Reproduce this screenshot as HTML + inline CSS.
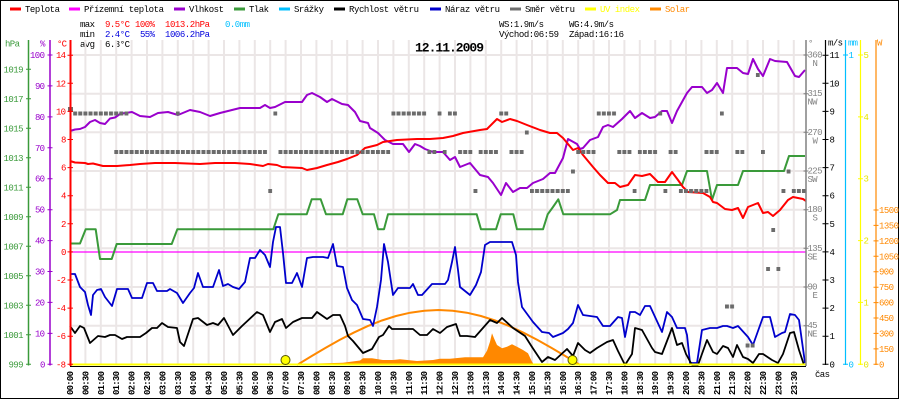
<!DOCTYPE html>
<html><head><meta charset="utf-8"><style>
html,body{margin:0;padding:0;background:#fff;}
svg{display:block;}
text{font-family:"Liberation Mono","DejaVu Sans Mono",monospace;font-size:9px;}
</style></head><body>
<svg width="900" height="400" viewBox="0 0 900 400" xmlns="http://www.w3.org/2000/svg">
<defs>
<pattern id="sq" x="68" y="0" width="5.133" height="400" patternUnits="userSpaceOnUse"><rect x="0" y="0" width="4" height="400" fill="#6b6b6b"/></pattern>
</defs>
<rect x="0" y="0" width="900" height="400" fill="#fff"/>
<rect x="0.5" y="0.5" width="898" height="398" fill="none" stroke="#000" stroke-width="1"/>

<!-- legend -->
<g stroke-width="3">
<line x1="10" y1="9" x2="21" y2="9" stroke="#ff0000"/>
<line x1="69" y1="9" x2="80" y2="9" stroke="#ff00ff"/>
<line x1="174" y1="9" x2="185" y2="9" stroke="#9900cc"/>
<line x1="234" y1="9" x2="245" y2="9" stroke="#3a9a3a"/>
<line x1="279" y1="9" x2="290" y2="9" stroke="#00bfff"/>
<line x1="334" y1="9" x2="345" y2="9" stroke="#000"/>
<line x1="430" y1="9" x2="441" y2="9" stroke="#0000cc"/>
<line x1="510" y1="9" x2="521" y2="9" stroke="#707070"/>
<line x1="585" y1="9" x2="596" y2="9" stroke="#ffff00"/>
<line x1="650" y1="9" x2="661" y2="9" stroke="#ff8800"/>
</g>
<g fill="#000">
<text x="25" y="12" textLength="35">Teplota</text>
<text x="84" y="12" textLength="80">Přízemní teplota</text>
<text x="189" y="12" textLength="35">Vlhkost</text>
<text x="249" y="12" textLength="20">Tlak</text>
<text x="294" y="12" textLength="30">Srážky</text>
<text x="349" y="12" textLength="70">Rychlost větru</text>
<text x="445" y="12" textLength="55">Náraz větru</text>
<text x="525" y="12" textLength="50">Směr větru</text>
<text x="600" y="12" textLength="40" fill="#ffff00">UV index</text>
<text x="665" y="12" textLength="25" fill="#ff8800">Solar</text>
</g>

<!-- stats -->
<text x="80" y="27" textLength="15">max</text>
<text x="105" y="27" textLength="25" fill="#ff0000">9.5°C</text>
<text x="135" y="27" textLength="20" fill="#ff0000">100%</text>
<text x="165" y="27" textLength="45" fill="#ff0000">1013.2hPa</text>
<text x="225" y="27" textLength="25" fill="#00bfff">0.0mm</text>
<text x="80" y="37" textLength="15">min</text>
<text x="105" y="37" textLength="25" fill="#0000dd">2.4°C</text>
<text x="140" y="37" textLength="15" fill="#0000dd">55%</text>
<text x="165" y="37" textLength="45" fill="#0000dd">1006.2hPa</text>
<text x="80" y="47" textLength="15">avg</text>
<text x="105" y="47" textLength="25">6.3°C</text>
<text x="499" y="27" textLength="45">WS:1.9m/s</text>
<text x="569" y="27" textLength="45">WG:4.9m/s</text>
<text x="499" y="37" textLength="60">Východ:06:59</text>
<text x="569" y="37" textLength="55">Západ:16:16</text>

<!-- grid -->
<path d="M85.4,40V365M100.8,40V365M116.2,40V365M131.6,40V365M147,40V365M162.4,40V365M177.8,40V365M193.2,40V365M208.6,40V365M224,40V365M239.4,40V365M254.8,40V365M270.2,40V365M285.6,40V365M301,40V365M316.4,40V365M331.8,40V365M347.2,40V365M362.6,40V365M378,40V365M393.4,40V365M408.8,40V365M424.2,40V365M439.6,40V365M455,40V365M470.4,40V365M485.8,40V365M501.2,40V365M516.6,40V365M532,40V365M547.4,40V365M562.8,40V365M578.2,40V365M593.6,40V365M609,40V365M624.4,40V365M639.8,40V365M655.2,40V365M670.6,40V365M686,40V365M701.4,40V365M716.8,40V365M732.2,40V365M747.6,40V365M763,40V365M778.4,40V365M793.8,40V365M70,55H806M70,93.7H806M70,132.3H806M70,171H806M70,209.7H806M70,248.3H806M70,287H806M70,325.7H806" stroke="#ebe6e6" stroke-width="2" fill="none"/>

<!-- title -->
<text x="415" y="51.7" textLength="69" style="font-size:13px;font-weight:bold">12.11.2009</text>

<!-- magenta 0 line -->
<line x1="70" y1="252" x2="806" y2="252" stroke="#ff00ff" stroke-width="1.3"/>

<!-- solar area -->
<polygon points="300,365 316,363.5 343,362.7 360,360.5 363,358.3 372,358.3 383,360 393,360 400,359.3 417,361 433,360 440,358.7 450,358.7 465,357.3 483,357.3 487,350.7 490,341.7 492,333.3 494,338.3 497,345 502,348.3 507,346.7 512,344.3 517,346.7 523,350 528,353.3 532,361.7 534,365" fill="#ff8800"/>
<polyline points="297,365 311.15,356.4 325.3,348 339.45,340 353.6,332.7 367.75,326.1 381.9,320.5 396.05,316 410.2,312.7 424.35,310.7 438.5,310 452.65,310.7 466.8,312.7 480.95,316 495.1,320.5 509.25,326.1 523.4,332.7 537.55,340 551.7,348 565.85,356.4 580,365" fill="none" stroke="#ff8800" stroke-width="2"/>

<g fill="none" stroke-width="2" stroke-linejoin="round">
<!-- pressure -->
<polyline stroke="#3a9a3a" points="70,243.5 80,243.5 85.7,229.3 95.7,229.3 100,259 111.7,259 116.7,244 171.7,244 177.3,229.3 273.3,229.3 278.3,214.3 306.7,214.3 311.7,199.3 320.7,199.3 326,214.3 342.7,214.3 347.3,199.3 357.3,199.3 362.7,214.3 374,214.3 378,229.3 384,229.3 388,214.3 476.7,214.3 481,229.3 496,229.3 500.7,214.3 513.3,214.3 517,229.3 543,229.3 547.7,214.3 553,207 558.3,199.3 563.3,214.3 610,214.3 617,210 620,200 645,200 650,185 682,185 687,171 707,171 712,200 717,185 738,185 743,171 784,171 789,156 805,156"/>
<!-- humidity -->
<polyline stroke="#9900cc" points="70,131 75,129.5 80,129 85,127 90,122 95,120 100,123 105,124 110,118.5 115,117.5 120,114 125,113 132,112 140,116 150,117 158,113 168,112 178,115 190,110 200,112 210,116 220,113 232,110 240,108 250,108 260,108 265,105 270,108 275,107 285,102 302,102 307,95 312,93 320,97 327,102 332,99 342,104 348,105 355,112 360,121 368,123 370,128 378,133 385,140 393,144 403,144 409,152 415,144 420,146 425,149 433,152 443,152 450,160 455,157 460,167 470,163 480,175 488,177 493,183 501,195 506,183 513,192 520,188 527,188 533,183 543,179 550,173 555,173 563,158 568,139 577,144 580,149 583,148 590,140 598,137 603,127 608,125 613,127 622,119 630,111 635,118 642,113 650,118 655,117 662,111 667,111 672,123 677,111 687,93 692,87 702,87 707,93 712,90 717,83 723,93 727,68 737,68 743,73 748,74 753,59 758,69 763,76 770,59 775,61 787,62 795,76 799,77 805,70"/>
<!-- temperature -->
<polyline stroke="#ff0000" points="70,161 75,162.5 85,163 88,164 93,163.5 97,164.5 103,166 117,166 130,165 140,164 155,163 175,163 200,164 215,163 235,163 250,164 263,166 268,164 277,165 282,167 302,168 307,170 312,169 317,168 327,165 338,162 347,159 357,155 365,148 377,145 383,142 397,140 417,139 430,139 443,138 453,136 463,133 480,130 487,129 497,119 502,122 510,119 517,121 527,125 540,130 550,133 557,133 563,138 573,150 578,148 583,155 593,167 600,175 608,183 615,183 620,187 628,185 635,175 642,176 650,174 658,182 665,182 672,172 678,180 683,187 688,192 703,193 710,197 713,202 717,203 725,209 732,210 738,208 743,218 748,207 758,203 763,213 768,212 773,216 780,210 788,200 793,197 803,199 806,201"/>
<!-- gust -->
<polyline stroke="#0000cc" stroke-width="1.8" points="70,274 75,274 80,287 85,292 88,305 91,315 93,295 97,290 101,289 105,297 112,306 117,289 128,289 132,298 142,298 147,283 153,283 157,291 167,291 170,289 177,293 183,303 190,293 194,288 198,273 203,287 213,287 219,270 223,286 228,284 233,287 239,289 245,282 250,258 255,258 260,250 265,255 270,267 273,242 276,227 280,227 283,253 286,283 292,283 297,273 302,287 307,258 313,257 323,257 328,258 333,244 337,266 343,267 347,288 352,300 357,305 360,312 363,319 370,320 373,326 377,307 381,280 384,244 388,262 391,282 393,295 398,288 410,288 413,284 418,295 422,295 432,284 445,284 448,280 452,262 455,247 458,270 460,287 470,295 476,285 481,272 485,245 490,242 512,242 516,255 518,282 522,307 533,322 542,332 549,333 553,337 563,333 568,329 573,323 578,305 583,315 597,317 603,326 610,326 618,317 622,318 625,337 630,312 635,312 640,315 645,306 650,306 662,332 667,312 672,317 677,328 685,328 687,335 690,363 697,363 702,330 710,328 717,328 723,326 727,326 733,328 738,326 748,337 753,345 763,317 770,317 775,337 782,333 785,332 790,314 795,315 799,320 805,363"/>
<!-- wind speed -->
<polyline stroke="#000" stroke-width="1.8" points="70,326 75,333 80,326 84,328 90,343 98,336 105,337 110,335 115,335 122,339 127,337 140,337 146,333 152,328 157,328 162,323 168,327 177,328 180,342 184,346 193,319 198,318 207,325 213,323 218,325 224,318 233,335 242,326 257,312 263,315 270,332 275,322 282,319 286,328 293,322 302,318 312,318 317,312 327,319 333,315 340,315 345,326 348,336 353,341 363,353 372,349 379,337 383,335 389,326 392,329 413,329 420,335 427,335 433,329 440,333 447,327 456,324 460,336 467,336 475,337 490,320 497,323 502,318 513,328 525,336 532,347 542,362 548,357 555,360 567,349 573,356 578,343 585,350 590,353 597,348 607,342 613,340 618,351 625,365 632,354 635,328 642,330 652,348 655,352 662,354 672,328 677,345 682,343 686,354 692,365 698,365 707,340 713,352 717,354 723,346 728,348 733,357 737,345 743,357 748,359 753,363 759,354 763,354 772,360 778,363 783,354 790,333 794,332 799,350 804,365"/>
</g>

<!-- wind direction squares -->
<rect x="68" y="107" width="5" height="5" fill="#6b6b6b"/>
<g fill="url(#sq)">
<rect x="73.1" y="111.5" width="55.4" height="4"/>
<rect x="175.8" y="111.5" width="4" height="4"/>
<rect x="273.3" y="111.5" width="4" height="4"/>
<rect x="391.4" y="111.5" width="34.8" height="4"/>
<rect x="437.6" y="111.5" width="4" height="4"/>
<rect x="447.8" y="111.5" width="9.2" height="4"/>
<rect x="499.2" y="111.5" width="9.1" height="4"/>
<rect x="596.7" y="111.5" width="19.4" height="4"/>
<rect x="658.3" y="111.5" width="4" height="4"/>
<rect x="719.9" y="111.5" width="4" height="4"/>
<rect x="755.8" y="73" width="4" height="4"/>
<rect x="524.8" y="130.5" width="4" height="4"/>
<rect x="114.2" y="150" width="152.9" height="4"/>
<rect x="278.5" y="150" width="111.7" height="4"/>
<rect x="427.3" y="150" width="9.1" height="4"/>
<rect x="442.7" y="150" width="4" height="4"/>
<rect x="458.1" y="150" width="14.3" height="4"/>
<rect x="478.6" y="150" width="19.4" height="4"/>
<rect x="509.4" y="150" width="14.3" height="4"/>
<rect x="576.2" y="150" width="19.4" height="4"/>
<rect x="617.2" y="150" width="14.3" height="4"/>
<rect x="637.8" y="150" width="19.4" height="4"/>
<rect x="668.6" y="150" width="9.1" height="4"/>
<rect x="704.5" y="150" width="14.3" height="4"/>
<rect x="735.3" y="150" width="9.1" height="4"/>
<rect x="761" y="150" width="4" height="4"/>
<rect x="571" y="169.5" width="4" height="4"/>
<rect x="786.6" y="169.5" width="4" height="4"/>
<rect x="268.2" y="189" width="4" height="4"/>
<rect x="473.5" y="189" width="4" height="4"/>
<rect x="530" y="189" width="39.9" height="4"/>
<rect x="632.6" y="189" width="4" height="4"/>
<rect x="663.4" y="189" width="4" height="4"/>
<rect x="678.8" y="189" width="29.7" height="4"/>
<rect x="781.5" y="189" width="4" height="4"/>
<rect x="791.7" y="189" width="14.3" height="4"/>
<rect x="771.2" y="228" width="4" height="4"/>
<rect x="766.1" y="267" width="4" height="4"/>
<rect x="776.4" y="267" width="4" height="4"/>
<rect x="725" y="304.5" width="9.2" height="4"/>
<rect x="745.6" y="343.5" width="9.1" height="4"/>
</g>

<!-- bottom: black axis + UV line -->
<line x1="70" y1="366.5" x2="806" y2="366.5" stroke="#000" stroke-width="1"/>
<line x1="70" y1="364.5" x2="806" y2="364.5" stroke="#ffff00" stroke-width="2"/>

<!-- sunrise/sunset -->
<circle cx="285.5" cy="360" r="4.5" fill="#ffff00" stroke="#555500" stroke-width="1"/>
<circle cx="572.5" cy="360" r="4.5" fill="#ffff00" stroke="#555500" stroke-width="1"/>

<!-- left axes -->
<line x1="28.5" y1="40" x2="28.5" y2="365.5" stroke="#3a9a3a" stroke-width="1.5"/>
<line x1="50" y1="40" x2="50" y2="365.5" stroke="#9900cc" stroke-width="1.5"/>
<line x1="70.5" y1="40" x2="70.5" y2="366" stroke="#ff0000" stroke-width="2"/>
<path d="M26,364.3H31M26,334.8H31M26,305.3H31M26,275.8H31M26,246.3H31M26,216.8H31M26,187.3H31M26,157.8H31M26,128.3H31M26,98.8H31M26,69.3H31" stroke="#3a9a3a" stroke-width="1"/>
<path d="M47.5,364.3H52.5M47.5,333.4H52.5M47.5,302.4H52.5M47.5,271.5H52.5M47.5,240.6H52.5M47.5,209.7H52.5M47.5,178.7H52.5M47.5,147.8H52.5M47.5,116.9H52.5M47.5,85.9H52.5M47.5,55H52.5" stroke="#9900cc" stroke-width="1"/>
<path d="M67.5,364.3H73M67.5,336.2H73M67.5,308.1H73M67.5,280H73M67.5,251.9H73M67.5,223.8H73M67.5,195.7H73M67.5,167.6H73M67.5,139.5H73M67.5,111.4H73M67.5,83.3H73M67.5,55.2H73" stroke="#ff0000" stroke-width="1"/>

<text x="5" y="46.5" textLength="15" fill="#3a9a3a">hPa</text>
<text x="40" y="46.5" textLength="5" fill="#9900cc">%</text>
<text x="57" y="46.5" textLength="10" fill="#ff0000">°C</text>

<g fill="#3a9a3a">
<text x="8.5" y="367.3" textLength="15">999</text>
<text x="3.5" y="337.8" textLength="20">1001</text>
<text x="3.5" y="308.3" textLength="20">1003</text>
<text x="3.5" y="278.8" textLength="20">1005</text>
<text x="3.5" y="249.3" textLength="20">1007</text>
<text x="3.5" y="219.8" textLength="20">1009</text>
<text x="3.5" y="190.3" textLength="20">1011</text>
<text x="3.5" y="160.8" textLength="20">1013</text>
<text x="3.5" y="131.3" textLength="20">1015</text>
<text x="3.5" y="101.8" textLength="20">1017</text>
<text x="3.5" y="72.3" textLength="20">1019</text>
</g>
<g fill="#9900cc">
<text x="40" y="367.3" textLength="5">0</text>
<text x="35" y="336.4" textLength="10">10</text>
<text x="35" y="305.4" textLength="10">20</text>
<text x="35" y="274.5" textLength="10">30</text>
<text x="35" y="243.6" textLength="10">40</text>
<text x="35" y="212.7" textLength="10">50</text>
<text x="35" y="181.7" textLength="10">60</text>
<text x="35" y="150.8" textLength="10">70</text>
<text x="35" y="119.9" textLength="10">80</text>
<text x="35" y="88.9" textLength="10">90</text>
<text x="30" y="58" textLength="15">100</text>
</g>
<g fill="#ff0000">
<text x="56" y="367.3" textLength="10">-8</text>
<text x="56" y="339.2" textLength="10">-6</text>
<text x="56" y="311.1" textLength="10">-4</text>
<text x="56" y="283" textLength="10">-2</text>
<text x="61" y="254.9" textLength="5">0</text>
<text x="61" y="226.8" textLength="5">2</text>
<text x="61" y="198.7" textLength="5">4</text>
<text x="61" y="170.6" textLength="5">6</text>
<text x="61" y="142.5" textLength="5">8</text>
<text x="56" y="114.4" textLength="10">10</text>
<text x="56" y="86.3" textLength="10">12</text>
<text x="56" y="58.2" textLength="10">14</text>
</g>

<!-- right axes -->
<line x1="806" y1="40" x2="806" y2="366" stroke="#808080" stroke-width="1.5"/>
<line x1="825.5" y1="40" x2="825.5" y2="365" stroke="#000" stroke-width="1.2"/>
<line x1="845.5" y1="40" x2="845.5" y2="365" stroke="#00bfff" stroke-width="1.2"/>
<line x1="860.5" y1="40" x2="860.5" y2="365" stroke="#ffff00" stroke-width="1.2"/>
<line x1="876" y1="40" x2="876" y2="365" stroke="#ff8800" stroke-width="1.2"/>

<path d="M803.5,55H808.5M803.5,93.7H808.5M803.5,132.3H808.5M803.5,171H808.5M803.5,209.7H808.5M803.5,248.3H808.5M803.5,287H808.5M803.5,325.7H808.5" stroke="#808080" stroke-width="1"/>
<path d="M822.5,364.3H828.5M822.5,336.2H828.5M822.5,308.1H828.5M822.5,280H828.5M822.5,251.9H828.5M822.5,223.8H828.5M822.5,195.7H828.5M822.5,167.6H828.5M822.5,139.5H828.5M822.5,111.4H828.5M822.5,83.3H828.5M822.5,55.2H828.5" stroke="#000" stroke-width="1"/>
<path d="M843,364.3H848M843,55H848" stroke="#00bfff" stroke-width="1"/>
<path d="M858,364.3H863M858,302.4H863M858,240.6H863M858,178.7H863M858,116.9H863M858,55H863" stroke="#ffff00" stroke-width="1"/>
<path d="M873.5,364.3H878.5M873.5,348.9H878.5M873.5,333.4H878.5M873.5,318H878.5M873.5,302.6H878.5M873.5,287.2H878.5M873.5,271.7H878.5M873.5,256.3H878.5M873.5,240.9H878.5M873.5,225.4H878.5M873.5,210H878.5" stroke="#ff8800" stroke-width="1"/>

<text x="808" y="46" textLength="5" fill="#808080">°</text>
<text x="828" y="45.7" textLength="15">m/s</text>
<text x="848" y="45.7" textLength="10" fill="#00bfff">mm</text>
<text x="877" y="45.7" textLength="5" fill="#ff8800">W</text>

<g fill="#808080">
<text x="807.5" y="57.5" textLength="15">360</text><text x="812.5" y="66" textLength="5">N</text>
<text x="807.5" y="96.2" textLength="15">315</text><text x="807.5" y="104.7" textLength="10">NW</text>
<text x="807.5" y="134.8" textLength="15">270</text><text x="812.5" y="143.3" textLength="5">W</text>
<text x="807.5" y="173.5" textLength="15">225</text><text x="807.5" y="182" textLength="10">SW</text>
<text x="807.5" y="212.2" textLength="15">180</text><text x="812.5" y="220.7" textLength="5">S</text>
<text x="807.5" y="250.8" textLength="15">135</text><text x="807.5" y="259.3" textLength="10">SE</text>
<text x="807.5" y="289.5" textLength="10">90</text><text x="812.5" y="298" textLength="5">E</text>
<text x="807.5" y="328.2" textLength="10">45</text><text x="807.5" y="336.7" textLength="10">NE</text>
</g>
<g fill="#000">
<text x="829.5" y="367.3" textLength="5">0</text>
<text x="829.5" y="339.2" textLength="5">1</text>
<text x="829.5" y="311.1" textLength="5">2</text>
<text x="829.5" y="283" textLength="5">3</text>
<text x="829.5" y="254.9" textLength="5">4</text>
<text x="829.5" y="226.8" textLength="5">5</text>
<text x="829.5" y="198.7" textLength="5">6</text>
<text x="829.5" y="170.6" textLength="5">7</text>
<text x="829.5" y="142.5" textLength="5">8</text>
<text x="829.5" y="114.4" textLength="5">9</text>
<text x="829.5" y="86.3" textLength="10">10</text>
<text x="829.5" y="58.2" textLength="10">11</text>
</g>
<g fill="#00bfff">
<text x="848.5" y="367.3" textLength="5">0</text>
<text x="848.5" y="58" textLength="5">1</text>
</g>
<g fill="#e6e600">
<text x="863.5" y="367.3" textLength="5">0</text>
<text x="863.5" y="305.4" textLength="5">1</text>
<text x="863.5" y="243.6" textLength="5">2</text>
<text x="863.5" y="181.7" textLength="5">3</text>
<text x="863.5" y="119.9" textLength="5">4</text>
<text x="863.5" y="58" textLength="5">5</text>
</g>
<g fill="#ff8800">
<text x="879" y="367.3" textLength="5">0</text>
<text x="879" y="351.9" textLength="15">150</text>
<text x="879" y="336.4" textLength="15">300</text>
<text x="879" y="321" textLength="15">450</text>
<text x="879" y="305.6" textLength="15">600</text>
<text x="879" y="290.2" textLength="15">750</text>
<text x="879" y="274.7" textLength="15">900</text>
<text x="879" y="259.3" textLength="20">1050</text>
<text x="879" y="243.9" textLength="20">1200</text>
<text x="879" y="228.4" textLength="20">1350</text>
<text x="879" y="213" textLength="20">1500</text>
</g>
<text x="815" y="377" textLength="15">čas</text>

<!-- time labels -->
<g style="font-weight:bold">
<text transform="translate(73,395) rotate(-90)" textLength="24">00:00</text>
<text transform="translate(88.4,395) rotate(-90)" textLength="24">00:30</text>
<text transform="translate(103.8,395) rotate(-90)" textLength="24">01:00</text>
<text transform="translate(119.2,395) rotate(-90)" textLength="24">01:30</text>
<text transform="translate(134.6,395) rotate(-90)" textLength="24">02:00</text>
<text transform="translate(150,395) rotate(-90)" textLength="24">02:30</text>
<text transform="translate(165.4,395) rotate(-90)" textLength="24">03:00</text>
<text transform="translate(180.8,395) rotate(-90)" textLength="24">03:30</text>
<text transform="translate(196.2,395) rotate(-90)" textLength="24">04:00</text>
<text transform="translate(211.6,395) rotate(-90)" textLength="24">04:30</text>
<text transform="translate(227,395) rotate(-90)" textLength="24">05:00</text>
<text transform="translate(242.4,395) rotate(-90)" textLength="24">05:30</text>
<text transform="translate(257.8,395) rotate(-90)" textLength="24">06:00</text>
<text transform="translate(273.2,395) rotate(-90)" textLength="24">06:30</text>
<text transform="translate(288.6,395) rotate(-90)" textLength="24">07:00</text>
<text transform="translate(304,395) rotate(-90)" textLength="24">07:30</text>
<text transform="translate(319.4,395) rotate(-90)" textLength="24">08:00</text>
<text transform="translate(334.8,395) rotate(-90)" textLength="24">08:30</text>
<text transform="translate(350.2,395) rotate(-90)" textLength="24">09:00</text>
<text transform="translate(365.6,395) rotate(-90)" textLength="24">09:30</text>
<text transform="translate(381,395) rotate(-90)" textLength="24">10:00</text>
<text transform="translate(396.4,395) rotate(-90)" textLength="24">10:30</text>
<text transform="translate(411.8,395) rotate(-90)" textLength="24">11:00</text>
<text transform="translate(427.2,395) rotate(-90)" textLength="24">11:30</text>
<text transform="translate(442.6,395) rotate(-90)" textLength="24">12:00</text>
<text transform="translate(458,395) rotate(-90)" textLength="24">12:30</text>
<text transform="translate(473.4,395) rotate(-90)" textLength="24">13:00</text>
<text transform="translate(488.8,395) rotate(-90)" textLength="24">13:30</text>
<text transform="translate(504.2,395) rotate(-90)" textLength="24">14:00</text>
<text transform="translate(519.6,395) rotate(-90)" textLength="24">14:30</text>
<text transform="translate(535,395) rotate(-90)" textLength="24">15:00</text>
<text transform="translate(550.4,395) rotate(-90)" textLength="24">15:30</text>
<text transform="translate(565.8,395) rotate(-90)" textLength="24">16:00</text>
<text transform="translate(581.2,395) rotate(-90)" textLength="24">16:30</text>
<text transform="translate(596.6,395) rotate(-90)" textLength="24">17:00</text>
<text transform="translate(612,395) rotate(-90)" textLength="24">17:30</text>
<text transform="translate(627.4,395) rotate(-90)" textLength="24">18:00</text>
<text transform="translate(642.8,395) rotate(-90)" textLength="24">18:30</text>
<text transform="translate(658.2,395) rotate(-90)" textLength="24">19:00</text>
<text transform="translate(673.6,395) rotate(-90)" textLength="24">19:30</text>
<text transform="translate(689,395) rotate(-90)" textLength="24">20:00</text>
<text transform="translate(704.4,395) rotate(-90)" textLength="24">20:30</text>
<text transform="translate(719.8,395) rotate(-90)" textLength="24">21:00</text>
<text transform="translate(735.2,395) rotate(-90)" textLength="24">21:30</text>
<text transform="translate(750.6,395) rotate(-90)" textLength="24">22:00</text>
<text transform="translate(766,395) rotate(-90)" textLength="24">22:30</text>
<text transform="translate(781.4,395) rotate(-90)" textLength="24">23:00</text>
<text transform="translate(796.8,395) rotate(-90)" textLength="24">23:30</text>
</g>
</svg>
</body></html>
